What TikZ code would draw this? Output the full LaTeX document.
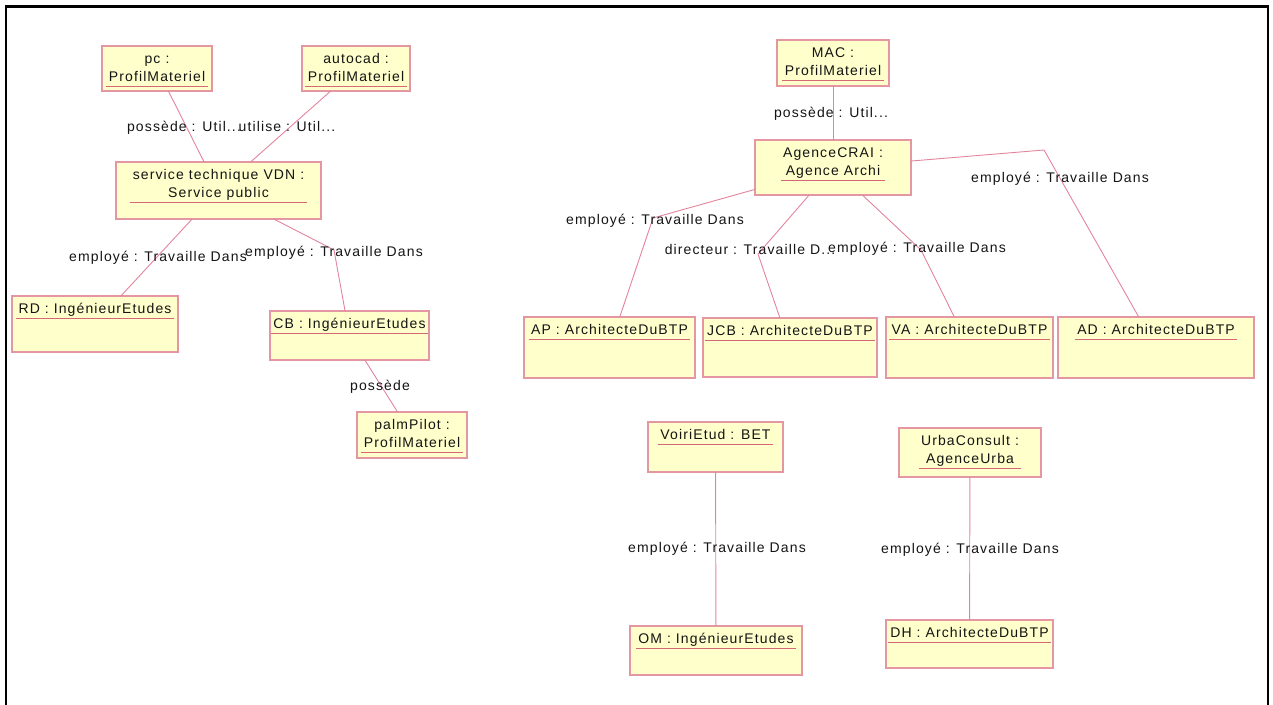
\documentclass[tikz,border=0pt]{standalone}
\usepackage{fontspec}
\usepackage{tikz}
\usetikzlibrary{calc, fit}
\newfontfamily\umlfont[LetterSpace=8]{Liberation Sans}
\definecolor{boxfill}{RGB}{255,255,204}
\definecolor{boxedge}{RGB}{228,150,162}
\definecolor{assocline}{RGB}{226,132,156}
\definecolor{underl}{RGB}{212,104,118}
\definecolor{umltext}{RGB}{20,20,20}

\begin{document}
\begin{tikzpicture}[
  x=1pt, y=-1pt,
  objbox/.style={draw=boxedge, fill=boxfill, line width=1.3pt, inner sep=0pt, outer sep=0pt},
  objtext/.style={font=\umlfont\fontsize{14}{18}\selectfont, text=umltext, inner sep=0pt, anchor=base},
  objline/.style={underl, line width=1pt},
  assoc/.style={assocline, line width=0.9pt},
  assoclabel/.style={font=\umlfont\fontsize{14}{18}\selectfont, text=umltext, inner sep=0pt, anchor=base},
]
\useasboundingbox (0,0) rectangle (1273,704);

% --- Frame ---
\draw[black, line width=2.5pt] (6,705) -- (6,6.5) -- (1268,6.5) -- (1268,705);

% --- Objects ---
\foreach \name/\x/\y/\w/\h/\la/\lb/\n in {
  pc/102/46/110/45/{pc :}/{ProfilMateriel}/2,
  autocad/302/46/108/45/{autocad :}/{ProfilMateriel}/2,
  svc/116/162/205/57/{service technique VDN :}/{Service public}/2,
  rd/12/296/166/56/{RD : IngénieurEtudes}/{}/1,
  cb/270/311/159/49/{CB : IngénieurEtudes}/{}/1,
  palm/357/412/110/46/{palmPilot :}/{ProfilMateriel}/2,
  mac/777/40/112/46/{MAC :}/{ProfilMateriel}/2,
  crai/755/140/156/55/{AgenceCRAI :}/{Agence Archi}/2,
  ap/524/317/171/61/{AP : ArchitecteDuBTP}/{}/1,
  jcb/703/318/174/59/{JCB : ArchitecteDuBTP}/{}/1,
  va/886/317/167/61/{VA : ArchitecteDuBTP}/{}/1,
  ad/1058/317/196/61/{AD : ArchitecteDuBTP}/{}/1,
  voiri/648/422/135/50/{VoiriEtud : BET}/{}/1,
  urba/899/428/142/49/{UrbaConsult :}/{AgenceUrba}/2,
  om/630/626/172/49/{OM : IngénieurEtudes}/{}/1,
  dh/886/620/167/48/{DH : ArchitecteDuBTP}/{}/1} {
  \node[objbox, minimum width=\w, minimum height=\h, anchor=north west] (\name) at (\x,\y) {};
  \node[objtext] (\name-a) at ($(\name.north)+(0,17)$) {\la};
  \node[objtext] (\name-b) at ($(\name.north)+(0,{17+18*(\n-1)})$) {\lb};
  \node[fit=(\name-a)(\name-b), inner sep=0pt] (\name-t) {};
  \draw[objline] ($(\name-t.west |- \name-b.base)+(-2,5)$) -- ($(\name-t.east |- \name-b.base)+(2,5)$);
}

% --- Bends ---
\coordinate (b-cb) at (334,250);
\coordinate (b-ap) at (653,218);
\coordinate (b-jcb) at (758,254);
\coordinate (b-va) at (921,250);
\coordinate (b-ad) at (1044,150);

% --- Links ---
\draw[assoc] (pc) -- (svc);
\draw[assoc] (autocad) -- (svc);
\draw[assoc] (svc) -- (rd);
\draw[assoc] (svc) -- (b-cb) -- (cb);
\draw[assoc] (cb) -- (palm);
\draw[assoc] (mac) -- (crai);
\draw[assoc] (crai) -- (b-ap) -- (ap);
\draw[assoc] (crai) -- (b-jcb) -- (jcb);
\draw[assoc] (crai) -- (b-va) -- (va);
\draw[assoc] (crai) -- (b-ad) -- (ad);
\draw[assoc] (voiri) -- (om);
\draw[assoc] (urba) -- (dh);

% --- Link labels ---
\node[assoclabel] (l-pc) at (184,131) {possède : Util...};
\node[assoclabel] (l-autocad) at (287,131) {utilise : Util...};
\node[assoclabel] (l-rd) at (158,261) {employé : Travaille Dans};
\node[assoclabel] (l-cb) at (334,256) {employé : Travaille Dans};
\node[assoclabel] (l-palm) at (380,390) {possède};
\node[assoclabel] (l-mac) at (831,117) {possède : Util...};
\node[assoclabel] (l-ap) at (655,224) {employé : Travaille Dans};
\node[assoclabel] (l-jcb) at (750,254) {directeur : Travaille D...};
\node[assoclabel] (l-va) at (917,252) {employé : Travaille Dans};
\node[assoclabel] (l-ad) at (1060,182) {employé : Travaille Dans};
\node[assoclabel] (l-om) at (717,552) {employé : Travaille Dans};
\node[assoclabel] (l-dh) at (970,553) {employé : Travaille Dans};

\end{tikzpicture}
\end{document}
